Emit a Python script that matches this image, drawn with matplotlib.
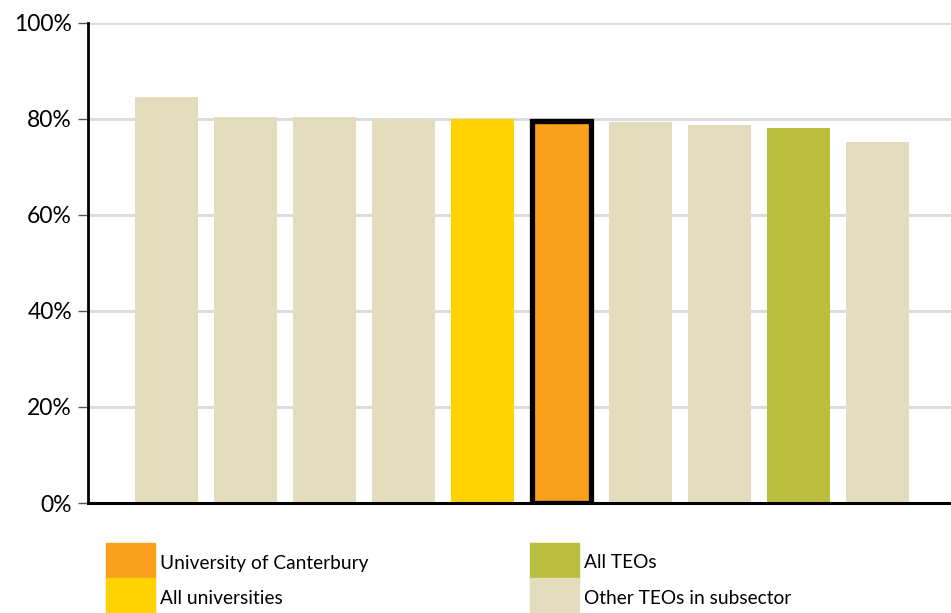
import matplotlib.pyplot as plt
from matplotlib.patches import Rectangle

plt.rcParams['font.family'] = ['Lato', 'DejaVu Sans']

# bar values (%), left to right
values = [84.5, 80.3, 80.3, 80.0, 79.9, 79.6, 79.3, 78.6, 78.0, 75.2]
groups = ['other', 'other', 'other', 'other', 'unis', 'uc', 'other', 'other', 'teos', 'other']

colours = {'uc': '#FBA01C', 'unis': '#FFD200', 'teos': '#BBBE3C', 'other': '#E2DBBC'}
legend_labels = {'uc': 'University of Canterbury', 'unis': 'All universities',
                 'teos': 'All TEOs', 'other': 'Other TEOs in subsector'}

yticks = [0, 20, 40, 60, 80, 100]
ytick_labels = ['0%', '20%', '40%', '60%', '80%', '100%']

fig = plt.figure(figsize=(9.51, 6.13), dpi=100)
ax = fig.add_axes([88/951, 1-503/613, 1-88/951, (503-22.7)/613])

for i, (v, g) in enumerate(zip(values, groups)):
    if g == 'uc':
        ax.bar(i, v, width=0.75, color=colours[g], edgecolor='black', linewidth=3.8, zorder=3)
    else:
        ax.bar(i, v, width=0.8, color=colours[g], zorder=3)

ax.set_ylim(0, 100)
ax.set_xlim(-0.995, 9.93)
ax.set_yticks(yticks)
ax.set_yticklabels(ytick_labels, fontsize=16.5)
ax.set_xticks([])
ax.yaxis.grid(True, color='#D9D9D9', linewidth=2, zorder=0)
ax.set_axisbelow(True)
ax.tick_params(axis='y', length=7.5, width=1, color='#555555', pad=4)
for s in ['top', 'right']:
    ax.spines[s].set_visible(False)
ax.spines['left'].set_linewidth(2)
ax.spines['bottom'].set_linewidth(2.2)
ax.spines['left'].set_zorder(4)
ax.spines['bottom'].set_zorder(4)

# legend drawn as two columns of swatches
W, H = 951, 613
legend_pos = {'uc': (106, 543), 'unis': (106, 578), 'teos': (530, 543), 'other': (530, 578)}
for key, (lx, ly) in legend_pos.items():
    fig.patches.append(Rectangle((lx/W, 1-(ly+35)/H), 49/W, 35/H,
                                 transform=fig.transFigure, color=colours[key]))
    fig.text((lx+54)/W, 1-(ly+20)/H, legend_labels[key], fontsize=13.8, va='center', ha='left')

fig.savefig('out.png', dpi=100)
